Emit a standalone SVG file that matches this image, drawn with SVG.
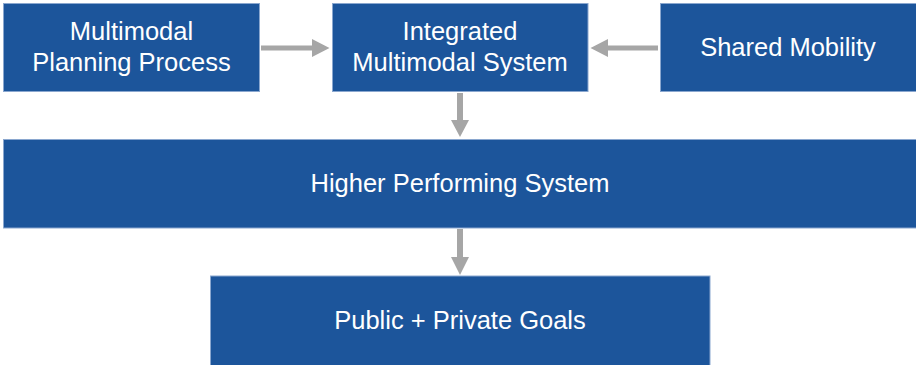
<svg xmlns="http://www.w3.org/2000/svg" width="916" height="365" viewBox="0 0 916 365">
  <style>
    .box { fill: #1c559b; stroke: #8aa7cf; stroke-width: 1; }
    .lbl { fill: #ffffff; font-family: "Liberation Sans", Arial, sans-serif; font-size: 25.5px; text-anchor: middle; }
    .arr { fill: #a6a6a6; }
  </style>
  <rect width="916" height="365" fill="#ffffff"/>
  <g id="n-planning">
    <rect class="box" x="3.5" y="3.5" width="256" height="88"/>
    <text class="lbl" x="131.5" y="40">Multimodal</text>
    <text class="lbl" x="131.5" y="71">Planning Process</text>
  </g>
  <g id="n-integrated">
    <rect class="box" x="332.5" y="3.5" width="255.5" height="88"/>
    <text class="lbl" x="460" y="40">Integrated</text>
    <text class="lbl" x="460" y="71">Multimodal System</text>
  </g>
  <g id="n-shared">
    <rect class="box" x="660.5" y="3.5" width="258" height="88"/>
    <text class="lbl" x="788" y="55.5">Shared Mobility</text>
  </g>
  <g id="n-higher">
    <rect class="box" x="3.5" y="139.5" width="915" height="88.5"/>
    <text class="lbl" x="460" y="192">Higher Performing System</text>
  </g>
  <g id="n-goals">
    <rect class="box" x="210.5" y="276" width="499.5" height="92"/>
    <text class="lbl" x="460" y="328.5">Public + Private Goals</text>
  </g>
  <g id="connectors">
    <polygon class="arr" points="261,45.5 312,45.5 312,39 329.5,48 312,57 312,50.5 261,50.5"/>
    <polygon class="arr" points="658,45.5 608,45.5 608,39 590.5,48 608,57 608,50.5 658,50.5"/>
    <polygon class="arr" points="457,93 463,93 463,120 469,120 460,137 451,120 457,120"/>
    <polygon class="arr" points="457,229 463,229 463,257 469,257 460,275 451,257 457,257"/>
  </g>
</svg>
